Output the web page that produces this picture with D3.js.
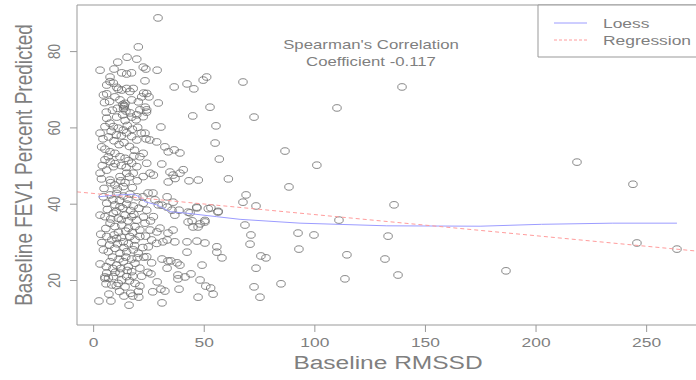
<!DOCTYPE html>
<html>
<head>
<meta charset="utf-8">
<script src="https://cdn.jsdelivr.net/npm/d3@7"></script>
<style>
  body { margin: 0; background: #fff; }
  text { font-family: "Liberation Sans", Arial, sans-serif; fill: #7f7f7f; }
</style>
</head>
<body>
<script>
// points: [RMSSD, FEV1 % predicted]
const clusterPoints = [
  [6.2,71.1],[7.7,72.0],[9.2,71.6],[10.7,70.5],[11.4,70.0],[13.0,69.8],[15.2,70.2],[16.7,69.4],[18.2,70.2],
  [4.7,68.5],[6.2,68.8],[9.9,68.0],[12.2,67.2],[14.5,66.3],[14.0,65.4],[14.9,64.3],[13.4,63.3],[17.5,67.2],
  [20.5,66.7],[22.0,68.0],[24.3,68.9],[21.2,64.6],[24.3,64.6],[22.7,62.8],[17.5,62.7],[14.5,61.8],[10.7,62.7],
  [6.2,62.4],[7.7,61.1],[5.4,60.2],[9.2,60.2],[11.4,59.8],[13.7,59.3],[15.2,58.6],[17.5,57.6],[19.8,56.7],
  [3.2,58.5],[3.9,54.9],[5.4,54.3],[7.7,53.6],[9.9,53.2],[12.2,52.3],[14.5,51.9],[16.0,51.3],[17.5,50.6],
  [19.8,49.7],[21.2,52.3],[22.7,53.2],[24.3,50.6],[25.8,48.0],[27.3,47.5],[22.7,47.1],[18.2,48.0],[15.2,48.0],
  [12.2,47.1],[9.2,49.7],[6.2,48.8],[7.7,46.2],[9.9,44.9],[13.7,44.5],[3.2,48.0],[5.4,51.5],[6.9,52.3],
  [13.5,66.0],[14.2,65.7],[13.8,64.9],
  [4.7,41.8],[7.7,42.3],[10.7,42.7],[13.7,42.0],[16.7,42.5],[19.8,41.8],[6.2,40.1],[9.9,39.7],[12.2,39.2],
  [15.2,39.9],[18.2,39.4],[3.2,37.0],[5.4,36.6],[9.2,37.5],[11.4,36.2],[14.5,37.0],[17.5,36.6],[19.8,35.7],
  [7.7,34.9],[9.9,34.0],[13.0,34.4],[16.0,33.6],[19.0,34.0],[21.2,33.1],[6.2,31.4],[8.5,30.5],[10.7,30.9],
  [13.7,30.0],[16.7,31.4],[19.0,30.5],[21.2,31.4],[4.7,27.9],[6.9,27.4],[9.9,28.3],[12.2,27.0],[15.2,27.4],
  [18.2,27.9],[20.5,27.0],[7.7,24.8],[10.7,23.9],[13.7,24.8],[16.0,23.5],[19.0,24.4],[21.2,23.1],[6.2,21.8],
  [9.2,20.9],[12.2,21.8],[15.2,20.9],[17.5,22.2],[5.4,20.4],[8.5,18.7],[11.4,19.1],[14.5,18.2],[19.0,19.1],
  [21.2,18.4],[24.3,26.1],[25.0,28.7],[26.5,30.5],[28.8,29.6],[25.8,33.1],[23.5,34.9],[27.3,36.6],[24.3,38.3],
  [22.7,40.1],[28.0,41.0],[29.5,39.7],
  [5.0,44.0],[8.0,45.5],[11.0,43.8],[14.5,45.5],[17.8,44.2],[20.0,46.0],[3.8,46.5],[12.5,46.0],[16.5,47.0],
  [9.0,41.0],[12.0,40.8],[15.8,41.2],[6.5,38.5],[10.5,38.0],[13.5,38.8],[17.0,38.2],[20.8,38.8],[8.0,36.0],
  [12.8,35.8],[15.8,35.5],[18.5,37.2],[5.8,33.5],[11.5,32.5],[14.8,32.8],[17.8,32.5],[9.5,31.8],[12.8,31.2],
  [16.0,29.5],[18.8,29.0],[7.5,29.2],[11.0,29.5],[14.0,28.5],[8.8,26.0],[11.8,25.5],[14.8,26.0],[17.5,25.5],
  [20.0,25.8],[6.0,23.5],[9.0,23.0],[12.5,23.0],[15.5,22.5],[18.0,21.0],[10.0,22.0],[13.0,20.0],[16.5,19.8],
  [7.0,20.5],[10.5,18.5],[3.5,32.0],[4.0,29.8],[22.5,28.5],[23.0,26.0],[22.0,21.0],[20.5,17.0],[17.0,16.5],
  [12.0,17.0],[24.8,22.0],[26.5,24.5],[23.8,31.5],[26.0,35.5],[22.8,36.5],
  [4.5,57.0],[7.0,57.5],[9.5,56.5],[11.8,55.5],[14.0,56.0],[16.5,55.0],[18.8,54.0],[8.2,59.0],[10.5,58.0],
  [12.8,57.8],[15.5,60.5],[17.8,59.5],[20.2,60.0],[6.0,64.0],[8.8,64.5],[11.0,65.0],[16.8,63.8],[19.5,62.0],
  [21.8,58.5],[24.0,57.0],[5.2,66.5],[7.5,66.8],[10.0,50.5],[12.8,50.0],[15.0,49.5],[7.8,51.0],[4.2,50.0],
  [18.5,52.5]
];

const spreadPoints = [
  [29.4,88.7],[20.5,81.1],[3.2,75.0],[11.2,77.1],[15.4,78.4],[19.8,77.9],[22.7,75.8],[23.9,75.3],[29.0,75.0],
  [9.5,75.3],[13.0,74.3],[15.2,74.0],[17.4,74.3],[7.7,73.2],[23.5,72.2],[36.7,70.6],[42.5,71.4],[45.6,70.1],
  [49.8,72.4],[51.4,73.2],[52.9,65.3],[45.1,63.0],[55.6,60.4],[55.2,55.9],[57.1,51.7],[61.2,46.5],[47.6,46.2],
  [43.4,46.0],[30.7,60.1],[29.5,66.4],[25.3,68.0],[22.9,69.0],[23.6,65.3],[24.2,64.0],[19.8,63.3],[28.8,56.2],
  [25.7,56.7],[23.5,58.5],[32.5,54.9],[34.0,53.6],[36.7,54.1],[39.3,53.3],[31.1,50.4],[34.8,48.3],[36.2,47.5],
  [39.3,48.0],
  [67.8,71.9],[139.7,70.6],[110.3,65.1],[72.8,62.7],[86.8,53.8],[101.2,50.1],[88.6,44.4],
  [69.2,42.3],[67.8,40.4],[73.7,39.4],[136.1,39.7],[111.2,35.7],[68.7,34.4],[71.4,31.8],[71.0,29.4],[92.7,32.3],
  [99.9,31.8],[133.4,31.5],[93.1,28.1],[75.9,26.3],[78.2,25.8],[73.7,23.1],[114.8,26.6],[132.0,25.5],[137.9,21.3],
  [113.9,20.3],[85.0,19.0],[72.8,18.2],[75.5,15.5],
  [218.8,50.9],[244.1,45.1],[186.7,22.4],[245.9,29.7],[264.0,28.1],
  [2.7,14.5],[8.1,14.5],[16.3,13.4],[31.2,14.0],[7.2,16.3],[14.0,15.8],[18.0,15.8],[20.7,15.5],[27.0,16.9],
  [30.7,17.6],[32.5,17.1],[38.9,17.6],[47.5,15.5],[51.0,18.4],[53.2,17.9],[54.3,16.3],[48.4,20.0],[44.3,21.6],
  [41.6,20.8],[38.4,21.3],[38.4,20.3],[33.5,23.1],[29.0,19.5],[26.2,21.6],[3.2,24.2],[5.9,19.0],[5.4,20.8],
  [49.3,23.9],[39.3,23.9],[42.5,27.3],[47.0,30.2],[50.6,29.7],[56.0,28.7],[56.0,27.3],[58.3,25.8],[42.5,30.0],
  [37.0,30.0],[33.5,30.5],[31.6,30.0],[36.2,33.1],[33.9,32.3],[30.3,33.6],[28.9,32.6],[33.9,25.0],[31.2,25.5],
  [38.0,24.5],[35.2,25.0],[43.0,35.2],[44.8,35.5],[45.2,33.9],[47.5,33.9],[48.4,34.7],[50.6,35.2],[47.0,38.9],
  [43.0,37.8],[37.0,37.0],[35.7,38.3],[38.9,38.3],[33.5,39.1],[36.2,40.4],[31.2,39.6],[53.3,38.9],[56.5,37.8],
  [33.5,41.8],[24.9,42.8],[22.6,41.8],[27.1,42.8],
  [40.8,48.9],[37.1,46.6],[34.0,45.7],[46.9,39.1],[52.1,38.7],[56.6,38.0],[43.9,37.6],[50.6,35.6]
];

const loessX = [2.4, 9, 15, 18.5, 21.2, 23.5, 28.8, 34.8, 42.4, 55.9, 66.5, 93.6, 132.8, 175, 202.8, 235, 264];
const loessY = [41.8, 42.2, 42.4, 42.5, 41.7, 40.5, 39.7, 37.9, 37.5, 36.6, 35.9, 34.9, 34.2, 34.1, 34.6, 34.9, 34.9];
const regression = { intercept: 42.7, slope: -0.0554 };

const xTicks = [0, 50, 100, 150, 200, 250];
const yTicks = [20, 40, 60, 80];
const legendLabels = ['Loess', 'Regression'];
const noteLines = ["Spearman's Correlation", 'Coefficient -0.117'];

// the picture is stretched sideways, so draw in a narrower box and stretch it
var stretch = 1.29;
var W = 696 / stretch, H = 380;
var plotLeft = 77 / stretch, plotRight = 700 / stretch, plotTop = 5, plotBottom = 325;

var svg = d3.select('body').append('svg')
  .attr('width', 696)
  .attr('height', 380)
  .attr('viewBox', '0 0 ' + W + ' ' + H)
  .attr('preserveAspectRatio', 'none');

var x = d3.scaleLinear().domain([0, 250]).range([93 / stretch, 646 / stretch]);
var y = d3.scaleLinear().domain([20, 80]).range([280, 51.1]);

svg.append('clipPath').attr('id', 'plot-clip')
  .append('rect')
  .attr('x', plotLeft).attr('y', plotTop)
  .attr('width', plotRight - plotLeft).attr('height', plotBottom - plotTop);

var plot = svg.append('g').attr('clip-path', 'url(#plot-clip)');

var points = clusterPoints.concat(spreadPoints);
plot.selectAll('circle')
  .data(points)
  .enter().append('circle')
  .attr('cx', function(d) { return x(d[0]); })
  .attr('cy', function(d) { return y(d[1]); })
  .attr('r', 3.3)
  .attr('fill', 'none')
  .attr('stroke', '#6a6a6a')
  .attr('stroke-width', 0.8)
  .attr('vector-effect', 'non-scaling-stroke');

var loessLine = d3.line()
  .x(function(d, i) { return x(loessX[i]); })
  .y(function(d) { return y(d); });

plot.append('path')
  .datum(loessY)
  .attr('d', loessLine)
  .attr('fill', 'none')
  .attr('stroke', '#9c9cff')
  .attr('stroke-width', 1)
  .attr('vector-effect', 'non-scaling-stroke');

var x0 = x.invert(plotLeft), x1 = x.invert(plotRight);
plot.append('line')
  .attr('x1', x(x0)).attr('y1', y(regression.intercept + regression.slope * x0))
  .attr('x2', x(x1)).attr('y2', y(regression.intercept + regression.slope * x1))
  .attr('stroke', '#ff9c9c')
  .attr('stroke-width', 1)
  .attr('stroke-dasharray', '4,3')
  .attr('vector-effect', 'non-scaling-stroke');

// frame
svg.append('rect')
  .attr('x', plotLeft).attr('y', plotTop)
  .attr('width', plotRight - plotLeft).attr('height', plotBottom - plotTop)
  .attr('fill', 'none')
  .attr('stroke', '#999')
  .attr('stroke-width', 1)
  .attr('vector-effect', 'non-scaling-stroke');

var xAxis = svg.append('g')
  .attr('transform', 'translate(0,' + plotBottom + ')')
  .call(d3.axisBottom(x).tickValues(xTicks).tickSize(7).tickSizeOuter(0));
xAxis.select('.domain').remove();
xAxis.selectAll('line')
  .attr('stroke', '#999')
  .attr('vector-effect', 'non-scaling-stroke');
xAxis.selectAll('text')
  .attr('y', 22).attr('dy', null)
  .style('font-size', '13.5px')
  .style('fill', '#7f7f7f');

var yAxis = svg.append('g')
  .attr('transform', 'translate(' + plotLeft + ',0)')
  .call(d3.axisLeft(y).tickValues(yTicks).tickSize(7 / stretch).tickSizeOuter(0));
yAxis.select('.domain').remove();
yAxis.selectAll('line')
  .attr('stroke', '#999')
  .attr('vector-effect', 'non-scaling-stroke');
yAxis.selectAll('text')
  .attr('x', null).attr('dy', null)
  .attr('text-anchor', 'middle')
  .attr('transform', 'translate(' + (60 / stretch - plotLeft) + ',0) rotate(-90)')
  .style('font-size', '13.5px')
  .style('fill', '#7f7f7f');

svg.append('text')
  .attr('x', 388 / stretch)
  .attr('y', 369)
  .attr('text-anchor', 'middle')
  .style('font-size', '19px')
  .text('Baseline RMSSD');

svg.append('text')
  .attr('transform', 'translate(' + (32 / stretch) + ',165) rotate(-90)')
  .attr('text-anchor', 'middle')
  .style('font-size', '19px')
  .text('Baseline FEV1 Percent Predicted');

svg.selectAll('.note')
  .data(noteLines)
  .enter().append('text')
  .attr('class', 'note')
  .attr('x', 371 / stretch)
  .attr('y', function(d, i) { return 49 + i * 17; })
  .attr('text-anchor', 'middle')
  .style('font-size', '13px')
  .text(function(d) { return d; });

// legend
svg.append('rect')
  .attr('x', 538 / stretch).attr('y', plotTop)
  .attr('width', (720 - 538) / stretch).attr('height', 52)
  .attr('fill', '#fff')
  .attr('stroke', '#999')
  .attr('vector-effect', 'non-scaling-stroke');

var legend = svg.selectAll('.legend')
  .data(legendLabels)
  .enter().append('g')
  .attr('class', 'legend')
  .attr('transform', function(d, i) { return 'translate(0,' + (23 + i * 17) + ')'; });

legend.append('line')
  .attr('x1', 554 / stretch).attr('x2', 587 / stretch)
  .attr('stroke', function(d, i) { return i === 0 ? '#9c9cff' : '#ff9c9c'; })
  .attr('stroke-dasharray', function(d, i) { return i === 0 ? null : '3,2'; })
  .attr('vector-effect', 'non-scaling-stroke');

legend.append('text')
  .attr('x', 603 / stretch)
  .attr('y', 5)
  .style('font-size', '13.5px')
  .text(function(d) { return d; });
</script>
</body>
</html>
